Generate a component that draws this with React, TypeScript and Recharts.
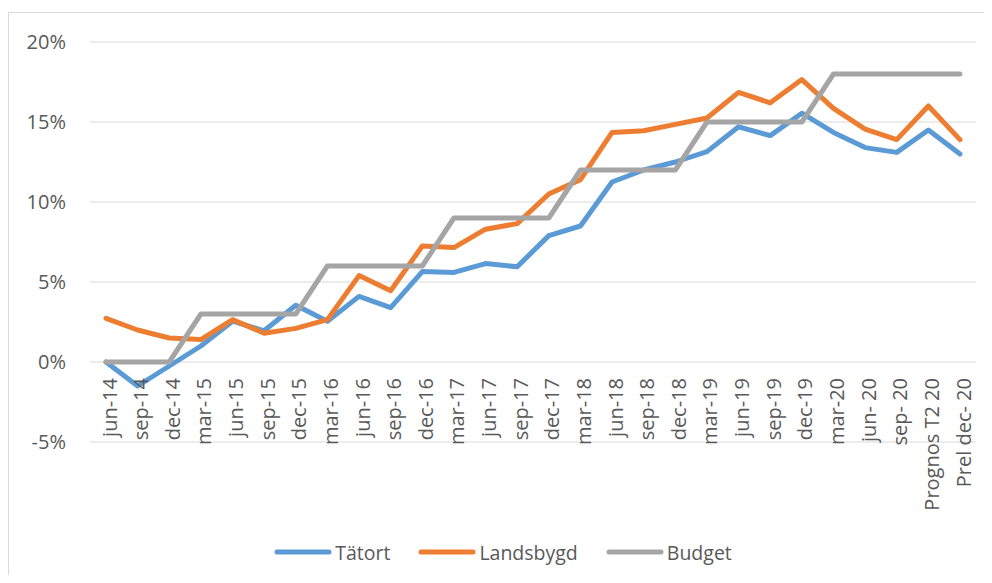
import React from 'react';
import { LineChart, Line, XAxis, YAxis, CartesianGrid, Legend } from 'recharts';

const categories = ['jun-14','sep-14','dec-14','mar-15','jun-15','sep-15','dec-15','mar-16','jun-16','sep-16','dec-16','mar-17','jun-17','sep-17','dec-17','mar-18','jun-18','sep-18','dec-18','mar-19','jun-19','sep-19','dec-19','mar-20','jun- 20','sep- 20','Prognos T2 20','Prel dec- 20'];
const tatort = [0, -1.5, -0.25, 1.0, 2.55, 1.95, 3.55, 2.55, 4.1, 3.4, 5.65, 5.6, 6.15, 5.95, 7.9, 8.5, 11.25, 12.0, 12.5, 13.15, 14.7, 14.15, 15.55, 14.35, 13.4, 13.1, 14.5, 13.0];
const landsbygd = [2.73, 2.0, 1.5, 1.4, 2.65, 1.8, 2.1, 2.65, 5.4, 4.45, 7.25, 7.15, 8.3, 8.65, 10.5, 11.4, 14.35, 14.45, 14.85, 15.25, 16.85, 16.2, 17.65, 15.85, 14.55, 13.9, 16.0, 13.9];
const budget = [0, 0, 0, 3, 3, 3, 3, 6, 6, 6, 6, 9, 9, 9, 9, 12, 12, 12, 12, 15, 15, 15, 15, 18, 18, 18, 18, 18];
const yTicks = [-5, 0, 5, 10, 15, 20];

const seriesNames = ['Tätort', 'Landsbygd', 'Budget'];
const seriesColors = ['#5B9BD5', '#ED7D31', '#A5A5A5'];

const data = categories.map((c, i) => ({
  cat: c,
  Tätort: tatort[i],
  Landsbygd: landsbygd[i],
  Budget: budget[i],
}));

const FONT = '"Open Sans", sans-serif';
const TEXT = '#595959';

const CatTick = (props: any) => {
  const { x, y, payload } = props;
  return (
    <text
      x={0}
      y={0}
      transform={`translate(${x + 3}, ${y - 64}) rotate(-90)`}
      textAnchor="end"
      dominantBaseline="central"
      fill={TEXT}
      fontSize={20}
      fontFamily={FONT}
    >
      {payload.value}
    </text>
  );
};

const LegendContent = () => (
  <div style={{ display: 'flex', justifyContent: 'center', alignItems: 'center', height: 30, paddingLeft: 22, fontFamily: FONT, fontSize: 19.5, color: TEXT }}>
    {seriesNames.map((n, i) => (
      <div key={n} style={{ display: 'flex', alignItems: 'center', marginRight: i < 2 ? 28 : 0 }}>
        <svg width={58} height={10} style={{ marginRight: 3 }}>
          <line x1={3} y1={5} x2={55} y2={5} stroke={seriesColors[i]} strokeWidth={5} strokeLinecap="round" />
        </svg>
        <span>{n}</span>
      </div>
    ))}
  </div>
);

export default function App() {
  return (
    <div style={{ position: 'relative', width: 984, height: 567 }}>
      <div style={{ position: 'absolute', top: 4, left: 0, width: 984, height: 563, borderTop: '1px solid #D9D9D9', borderLeft: '1px solid #D9D9D9', boxSizing: 'border-box' }} />
      <LineChart width={984} height={567} data={data} margin={{ top: 34, right: 16, bottom: 8, left: 0 }}>
        <CartesianGrid vertical={false} stroke="#D9D9D9" strokeWidth={1} />
        <XAxis dataKey="cat" interval={0} height={95} padding={{ left: 16, right: 16 }} tickLine={false} axisLine={false} tickSize={0} tickMargin={0} tick={<CatTick />} />
        <YAxis
          domain={[-5, 20]}
          ticks={yTicks}
          width={82}
          axisLine={false}
          tickLine={false}
          tickSize={6}
          tickMargin={18}
          tickFormatter={(v: number) => `${v}%`}
          tick={{ fill: TEXT, fontSize: 20, fontFamily: FONT }}
        />
        <Legend verticalAlign="bottom" content={<LegendContent />} />
        {seriesNames.map((n, i) => (
          <Line
            key={n}
            type="linear"
            dataKey={n}
            stroke={seriesColors[i]}
            strokeWidth={5}
            dot={false}
            activeDot={false}
            strokeLinecap="round"
            strokeLinejoin="round"
            isAnimationActive={false}
          />
        ))}
      </LineChart>
    </div>
  );
}
